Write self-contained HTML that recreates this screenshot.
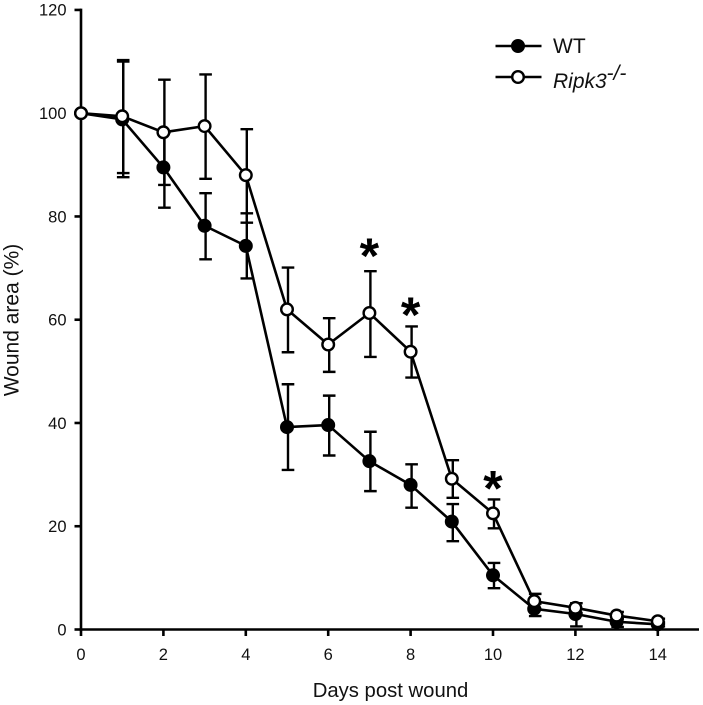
<!DOCTYPE html>
<html>
<head>
<meta charset="utf-8">
<style>
html,body{margin:0;padding:0;background:#fff;width:703px;height:705px;overflow:hidden}
svg{display:block;font-family:"Liberation Sans",Arial,sans-serif}
</style>
</head>
<body>
<svg id="chart" width="703" height="705" viewBox="0 0 703 705"></svg>
<script>
var days = [0,1,2,3,4,5,6,7,8,9,10,11,12,13,14];
var wtMean  = [100,98.8,89.5,78.2,74.3,39.2,39.6,32.6,28,20.9,10.5,4,3,1.5,1];
var wtUpper = [100,110,96.3,84.5,80.6,47.5,45.3,38.3,32,24.3,12.9,5,4,2.2,1.4];
var wtLower = [100,87.6,81.7,71.7,68,30.9,33.7,26.8,23.6,17.1,8,2.6,0.6,0.5,0.6];
var koMean  = [100,99.4,96.3,97.5,88,62,55.2,61.3,53.8,29.2,22.5,5.5,4.2,2.7,1.6];
var koUpper = [100,110.3,106.5,107.5,96.9,70.1,60.3,69.4,58.7,32.8,25.2,6.9,5.1,3.4,2.1];
var koLower = [100,88.4,86.1,87.3,78.8,53.7,49.9,52.8,48.8,25.5,19.6,4,3.2,2,1.1];
var xTickLabels = [0,2,4,6,8,10,12,14];
var yTickLabels = [0,20,40,60,80,100,120];
var significantDays = [7,8,10];
var significantHeights = [73.6,62.2,28.6];

var svg = document.getElementById('chart');
var NS = 'http://www.w3.org/2000/svg';
function xScale(d){ return 81 + d * 41.2; }
function yScale(v){ return 629.5 - v * 5.163; }
function make(tag, attrs, parent, text){
  var el = document.createElementNS(NS, tag);
  for (var k in attrs) el.setAttribute(k, attrs[k]);
  if (text !== undefined) el.textContent = text;
  (parent || svg).appendChild(el);
  return el;
}
var STROKE = 2.6;

// axes
var yAxis = make('line',{x1:xScale(0),y1:yScale(120)-1.3,x2:xScale(0),y2:yScale(0)+1.3,stroke:'#000','stroke-width':STROKE});


var xAxis = make('line',{x1:xScale(0)-1.3,y1:yScale(0),x2:699,y2:yScale(0),stroke:'#000','stroke-width':STROKE});



yTickLabels.forEach(function(v){
  var y = yScale(v);
  var t = make('line',{x1:xScale(0)-6.5,y1:y,x2:xScale(0),y2:y,stroke:'#000','stroke-width':STROKE});
  
  
  var l = make('text',{x:66.5,y:y+5.8,'text-anchor':'end','font-size':16.5,fill:'#111'},svg,String(v));
  
  
});
xTickLabels.forEach(function(d){
  var x = xScale(d);
  var t = make('line',{x1:x,y1:yScale(0),x2:x,y2:yScale(0)+6.5,stroke:'#000','stroke-width':STROKE});
  
  
  var l = make('text',{x:x,y:660,'text-anchor':'middle','font-size':16.5,fill:'#111'},svg,String(d));
  
  
});

var xTitle = make('text',{x:390.5,y:697,'text-anchor':'middle','font-size':20.3,fill:'#111'},svg,'Days post wound');


var yTitle = make('text',{x:0,y:0,transform:'translate(18.5,320) rotate(-90)','text-anchor':'middle','font-size':21,fill:'#111'},svg,'Wound area (%)');



function drawSeries(name, mean, upper, lower, fill){
  var g = make('g',{});
  
  
  days.forEach(function(d,i){
    if (upper[i] === lower[i]) return;
    var x = xScale(d)+1, yu = yScale(upper[i]), yl = yScale(lower[i]);
    var e = make('path',{d:'M'+(x-6.3)+' '+yu+'H'+(x+6.3)+'M'+x+' '+yu+'V'+yl+'M'+(x-6.3)+' '+yl+'H'+(x+6.3),fill:'none',stroke:'#000','stroke-width':2.4},g);
    
    
  });
  var pts = days.map(function(d,i){ return xScale(d)+','+yScale(mean[i]); }).join(' ');
  var line = make('polyline',{points:pts,fill:'none',stroke:'#000','stroke-width':STROKE,'stroke-linejoin':'round'},g);
  
  
  days.forEach(function(d,i){
    var c = make('circle',{cx:xScale(d),cy:yScale(mean[i]),r:5.8,fill:fill,stroke:'#000','stroke-width':2.4},g);
    
    
  });
}
drawSeries('wt', wtMean, wtUpper, wtLower, '#000');
drawSeries('ripk3', koMean, koUpper, koLower, '#fff');

significantDays.forEach(function(d,i){
  var s = make('text',{x:xScale(d),y:yScale(significantHeights[i])+23.5,'text-anchor':'middle','font-size':50,'font-weight':'bold',fill:'#000'},svg,'*');
  
  
});

// legend
var legend = make('g',{});


var l1 = make('line',{x1:495.5,y1:46,x2:541.5,y2:46,stroke:'#000','stroke-width':STROKE},legend);


var c1 = make('circle',{cx:518,cy:46,r:5.8,fill:'#000',stroke:'#000','stroke-width':2.4},legend);


var t1 = make('text',{x:553,y:53,'font-size':21,fill:'#111'},legend,'WT');


var l2 = make('line',{x1:495.5,y1:77,x2:541.5,y2:77,stroke:'#000','stroke-width':STROKE},legend);


var c2 = make('circle',{cx:518,cy:77,r:5.8,fill:'#fff',stroke:'#000','stroke-width':2.4},legend);


var t2 = make('text',{x:553,y:88,'font-size':21,fill:'#111','font-style':'italic'},legend,'Ripk3');


var t3 = make('text',{x:606.5,y:80,'font-size':21,fill:'#111','font-style':'italic'},legend,'-/-');


</script>
</body>
</html>
